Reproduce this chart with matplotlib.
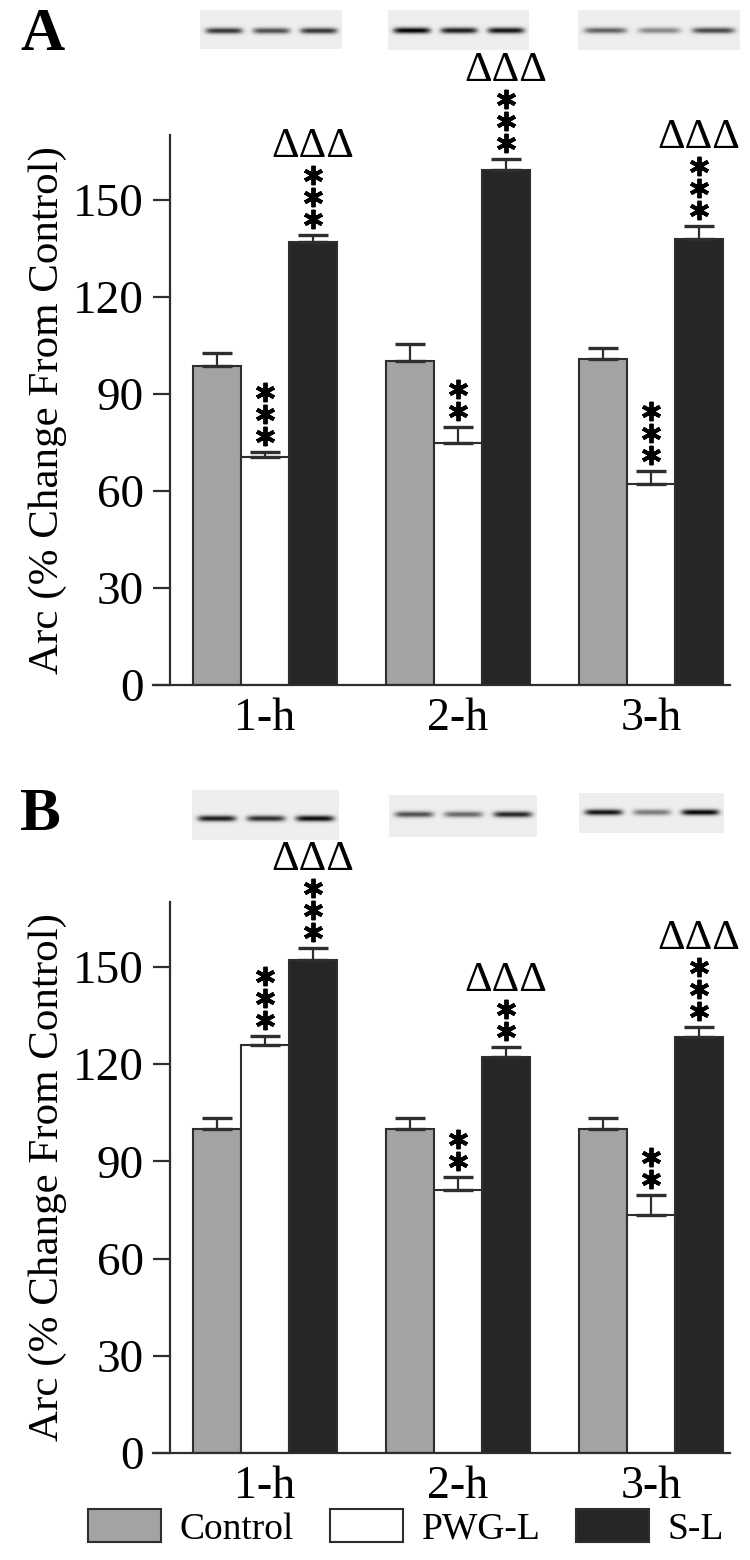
"""Arc protein levels after light exposure: two panels of grouped bars with blots."""

import matplotlib

matplotlib.use("Agg")
import matplotlib.pyplot as plt
import numpy as np
from matplotlib.transforms import offset_copy

plt.rcParams["font.family"] = ["Liberation Serif", "DejaVu Serif"]

# ---- data -------------------------------------------------------------
time_labels = ["1-h", "2-h", "3-h"]
series_names = ["Control", "PWG-L", "S-L"]

# panel A
a_control = [98.5, 100.0, 100.7]
a_pwg = [70.5, 74.8, 62.2]
a_sl = [137.0, 159.3, 138.0]
a_control_err = [4.2, 5.5, 3.4]
a_pwg_err = [1.6, 5.0, 4.0]
a_sl_err = [2.0, 3.4, 3.8]
a_pwg_stars = [3, 2, 3]
a_sl_stars = [3, 3, 3]
a_sl_delta = [True, True, True]

# panel B
b_control = [100.0, 100.0, 100.0]
b_pwg = [126.0, 81.2, 73.5]
b_sl = [152.0, 122.2, 128.4]
b_control_err = [3.4, 3.4, 3.4]
b_pwg_err = [2.6, 4.0, 6.0]
b_sl_err = [3.8, 3.0, 3.0]
b_pwg_stars = [3, 2, 2]
b_sl_stars = [3, 2, 3]
b_sl_delta = [True, True, True]

# band darkness of the three lanes (Control, PWG-L, S-L) in each blot
a_blot_bands = [[0.72, 0.62, 0.72], [0.92, 0.82, 0.85], [0.55, 0.40, 0.65]]
b_blot_bands = [[0.82, 0.75, 0.88], [0.62, 0.52, 0.78], [0.85, 0.45, 0.90]]

# ---- layout (pixels) --------------------------------------------------
W, H = 750, 1560
fig = plt.figure(figsize=(W / 100, H / 100), dpi=100)

colors = ["#a3a3a3", "#ffffff", "#262626"]
edge = "#2e2e2e"


def px_axes(left, top, right, bottom):
    return fig.add_axes([left / W, 1 - bottom / H, (right - left) / W, (bottom - top) / H])


def draw_blot(left, top, width, height, bands, band_row):
    bx = fig.add_axes([left / W, 1 - (top + height) / H, width / W, height / H])
    rows, cols = int(height), int(width)
    yy, xx = np.mgrid[0:rows, 0:cols]
    img = np.full((rows, cols), 0.93)
    for k, dark in enumerate(bands):
        xc = cols * (k + 0.5) / 3
        lane = np.exp(-(((xx - xc) / (cols * 0.13)) ** 6))
        band = np.exp(-(((yy - band_row * rows) / 3.0) ** 2))
        img -= dark * lane * band
    bx.imshow(img, cmap="gray", vmin=0, vmax=1, aspect="auto", interpolation="bilinear")
    bx.axis("off")


def draw_panel(ax, ctrl, pwg, sl, ctrl_err, pwg_err, sl_err, pwg_stars, sl_stars, sl_delta):
    x = np.arange(len(time_labels))
    width = 0.25
    offsets = [-width, 0.0, width]
    vals = [ctrl, pwg, sl]
    errs = [ctrl_err, pwg_err, sl_err]
    handles = []
    for i in range(3):
        b = ax.bar(x + offsets[i], vals[i], width, color=colors[i], edgecolor=edge,
                   linewidth=1.5, label=series_names[i], zorder=2)
        handles.append(b)
        ax.errorbar(x + offsets[i], vals[i], yerr=[np.zeros(3), errs[i]], fmt="none",
                    ecolor=edge, elinewidth=1.6, capsize=10.5, capthick=2.4, zorder=3)

    # significance marks, stacked above the error caps
    for xpos, tops, nstars, deltas in [
        (x + offsets[1], np.add(pwg, pwg_err), pwg_stars, [False] * 3),
        (x + offsets[2], np.add(sl, sl_err), sl_stars, sl_delta),
    ]:
        for xi, top, n, d in zip(xpos, tops, nstars, deltas):
            for k in range(n):
                tr = offset_copy(ax.transData, fig=fig, x=0, y=16 + 22 * k, units="dots")
                ax.plot([xi], [top], marker=(6, 2, 0), ms=14, mew=2.8, color="black",
                        transform=tr, clip_on=False, zorder=4)
            if d:
                base = 16 + 22 * (n - 1) + 18
                ax.annotate("ΔΔΔ", (xi, top), xytext=(0, base), textcoords="offset pixels",
                            ha="center", va="baseline", fontsize=31, annotation_clip=False)

    ax.set_ylim(0, 170)
    ax.set_xlim(-0.58, 2.41)
    ax.spines["left"].set_position(("data", -0.492))
    for s in ["top", "right"]:
        ax.spines[s].set_visible(False)
    for s in ["left", "bottom"]:
        ax.spines[s].set_linewidth(1.6)
        ax.spines[s].set_color(edge)
    ax.set_yticks(np.arange(0, 151, 30))
    ax.tick_params(axis="y", length=12, width=1.6, color=edge, labelsize=34, pad=7)
    ax.set_xticks(x)
    ax.set_xticklabels(time_labels)
    ax.tick_params(axis="x", length=0, labelsize=33, pad=9)
    ax.set_ylabel("Arc (% Change From Control)", fontsize=31, labelpad=4)
    return handles


ax_a = px_axes(153, 135, 730, 685)
draw_panel(ax_a, a_control, a_pwg, a_sl, a_control_err, a_pwg_err, a_sl_err,
           a_pwg_stars, a_sl_stars, a_sl_delta)
ax_b = px_axes(153, 902, 730, 1453)
handles = draw_panel(ax_b, b_control, b_pwg, b_sl, b_control_err, b_pwg_err, b_sl_err,
                     b_pwg_stars, b_sl_stars, b_sl_delta)

# blots above each panel
draw_blot(200, 10, 142, 39, a_blot_bands[0], 0.52)
draw_blot(388, 10, 141, 40, a_blot_bands[1], 0.50)
draw_blot(578, 10, 162, 40, a_blot_bands[2], 0.50)
draw_blot(192, 790, 147, 50, b_blot_bands[0], 0.56)
draw_blot(389, 795, 147, 42, b_blot_bands[1], 0.45)
draw_blot(579, 793, 145, 40, b_blot_bands[2], 0.47)

fig.text(20 / W, 1 - 50 / H, "A", fontsize=44, fontweight="bold", ha="left", va="baseline")
fig.text(20 / W, 1 - 830 / H, "B", fontsize=44, fontweight="bold", ha="left", va="baseline")

fig.legend(handles=handles, loc="center", bbox_to_anchor=(406 / W, 1 - 1528 / H), ncol=3,
           frameon=False, fontsize=27, handlelength=1.95, handleheight=0.95,
           handletextpad=0.5, columnspacing=0.95)

fig.savefig("out.png", dpi=100)
